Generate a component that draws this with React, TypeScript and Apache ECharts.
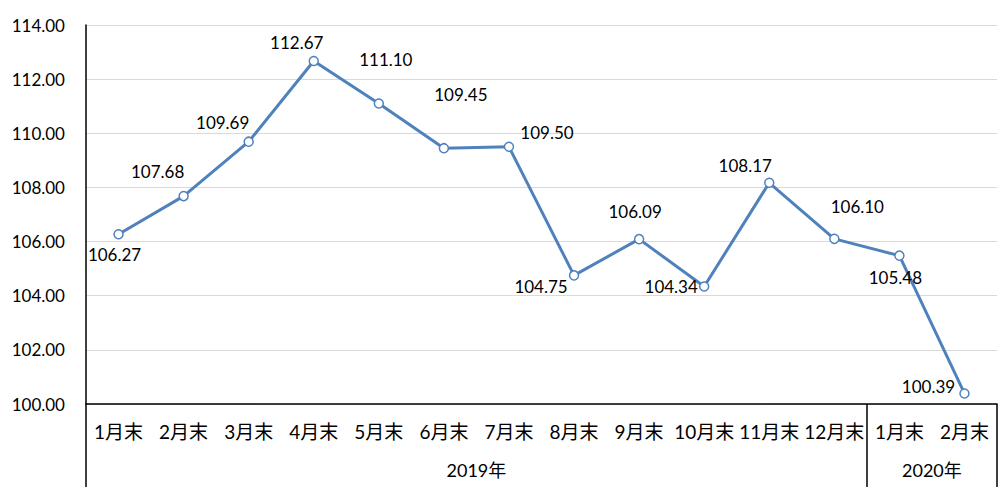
import React, { useEffect, useRef } from "react";
import * as echarts from "echarts";

const categories = ["1月末", "2月末", "3月末", "4月末", "5月末", "6月末", "7月末", "8月末", "9月末", "10月末", "11月末", "12月末", "1月末", "2月末"];
const values = [106.27, 107.68, 109.69, 112.67, 111.1, 109.45, 109.5, 104.75, 106.09, 104.34, 108.17, 106.1, 105.48, 100.39];
const yearLabels = ["2019年", "2020年"];
const yearCenters = [6, 13];
const yearBounds = [0, 12, 14];
const labelOffsets: [number, number][] = [
  [-4, 20], [-26, -25], [-26, -19], [-17, -19], [7, -44], [17, -54], [38, -14],
  [-33, 11], [-4, -28], [-33, 0], [-24, -17], [23, -32], [-4, 22], [-36, -7],
];

const FONT = 'Lato, "Noto Sans CJK SC", sans-serif';

export default function App() {
  const ref = useRef<HTMLDivElement>(null);
  useEffect(() => {
    document.body.style.margin = "0";
    const chart = echarts.init(ref.current!, undefined, { renderer: "svg" });
    chart.setOption({
      animation: false,
      textStyle: { fontFamily: FONT },
      grid: { left: 86, right: 11, top: 25, bottom: 100 },
      xAxis: [
        {
          type: "category",
          data: categories,
          boundaryGap: true,
          axisLine: { lineStyle: { color: "#000", width: 1.5 } },
          axisTick: { show: false },
          axisLabel: { color: "#000", fontSize: 19, margin: 18, interval: 0, fontFamily: FONT },
        },
        {
          type: "value",
          position: "bottom",
          min: 0,
          max: 14,
          axisLine: { show: false },
          splitLine: { show: false },
          axisTick: { show: true, customValues: yearBounds, length: 83, inside: false, lineStyle: { color: "#000", width: 1.5 } },
          axisLabel: {
            show: true,
            color: "#000",
            fontSize: 18,
            margin: 57,
            fontFamily: FONT,
            customValues: yearCenters,
            formatter: (v: number) => {
              const i = yearCenters.indexOf(v);
              return i >= 0 ? yearLabels[i] : "";
            },
          },
        },
      ],
      yAxis: {
        type: "value",
        min: 100,
        max: 114,
        interval: 2,
        axisLine: { show: true, lineStyle: { color: "#000", width: 1.5 } },
        axisTick: { show: false },
        splitLine: { lineStyle: { color: "#d9d9d9", width: 1 } },
        axisLabel: { color: "#000", fontSize: 17, margin: 21, fontFamily: FONT, formatter: (v: number) => v.toFixed(2) },
      },
      series: [
        {
          type: "line",
          xAxisIndex: 0,
          data: values.map((v, i) => ({
            value: v,
            label: { offset: labelOffsets[i] },
          })),
          symbol: "circle",
          symbolSize: 9,
          lineStyle: { color: "#4F81BD", width: 3 },
          itemStyle: { color: "#fff", borderColor: "#4F81BD", borderWidth: 1.5 },
          label: {
            show: true,
            position: "inside",
            align: "center",
            verticalAlign: "middle",
            color: "#000",
            fontSize: 17,
            fontFamily: FONT,
            formatter: (p: any) => p.value.toFixed(2),
          },
          z: 3,
        },
      ],
    });
    return () => chart.dispose();
  }, []);
  return <div ref={ref} style={{ width: 1008, height: 504 }} />;
}
